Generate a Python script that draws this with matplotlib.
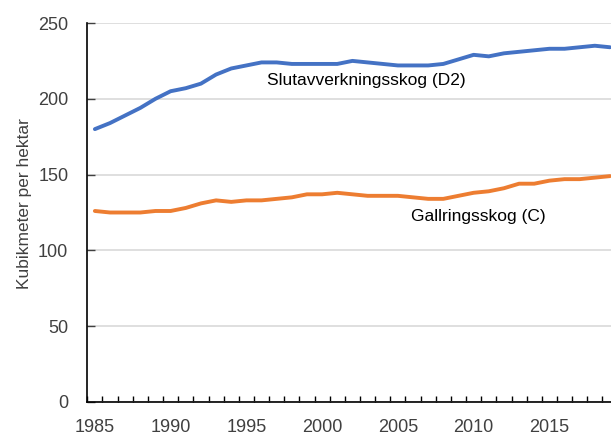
import matplotlib
matplotlib.use("Agg")
import matplotlib.pyplot as plt
import numpy as np

years = list(range(1985, 2020))
slutavverkning = [180, 184, 189, 194, 200, 205, 207, 210, 216, 220, 222, 224, 224, 223,
                  223, 223, 223, 225, 224, 223, 222, 222, 222, 223, 226, 229, 228, 230,
                  231, 232, 233, 233, 234, 235, 234]
gallring = [126, 125, 125, 125, 126, 126, 128, 131, 133, 132, 133, 133, 134, 135, 137,
            137, 138, 137, 136, 136, 136, 135, 134, 134, 136, 138, 139, 141, 144, 144,
            146, 147, 147, 148, 149]
ytick_vals = [0, 50, 100, 150, 200, 250]
xtick_labels = [1985, 1990, 1995, 2000, 2005, 2010, 2015]

plt.rcParams['font.family'] = ['Liberation Sans', 'DejaVu Sans']

fig = plt.figure(figsize=(6.11, 4.37), dpi=100)
ax_left = 87.3 / 611
ax_bottom = 35 / 437
ax_h = 379 / 437
ax_w = 35 * 15.15 / 611
ax = fig.add_axes([ax_left, ax_bottom, ax_w, ax_h])

ax.plot(years, slutavverkning, color='#4472C4', lw=2.8, solid_capstyle='round', zorder=3)
ax.plot(years, gallring, color='#ED7D31', lw=2.8, solid_capstyle='round', zorder=3)

ax.set_xlim(years[0] - 0.5, years[-1] + 0.5)
ax.set_ylim(0, 250)

ax.set_yticks(ytick_vals)
ax.set_yticklabels([str(v) for v in ytick_vals])
ax.grid(axis='y', color='#D9D9D9', lw=1.2, zorder=0)
ax.set_axisbelow(True)

# category boundary ticks (major, no labels), label ticks (minor)
ax.set_xticks(np.arange(years[0] - 0.5, years[-1] + 1.0, 1.0))
ax.set_xticklabels([])
ax.set_xticks(xtick_labels, minor=True)
ax.set_xticklabels([str(v) for v in xtick_labels], minor=True)
ax.tick_params(axis='x', which='major', direction='in', length=4, width=1, color='#000000')
ax.tick_params(axis='x', which='minor', length=0, pad=12.5, labelsize=13, labelcolor='#404040')
ax.tick_params(axis='y', direction='in', length=6, width=1, pad=13.7, labelsize=13,
               labelcolor='#404040', color='#404040')

for s in ['top', 'right']:
    ax.spines[s].set_visible(False)
for s in ['left', 'bottom']:
    ax.spines[s].set_color('#000000')
    ax.spines[s].set_linewidth(1.2)

ax.text(2002.9, 212.4, 'Slutavverkningsskog (D2)', ha='center', va='center',
        fontsize=12.5, color='#000000')
ax.text(2010.3, 122.2, 'Gallringsskog (C)', ha='center', va='center',
        fontsize=12.5, color='#000000')

fig.text(25 / 611, 1 - 203.5 / 437, 'Kubikmeter per hektar', rotation=90,
         ha='center', va='center', fontsize=12.5, color='#404040')

fig.savefig('out.png', dpi=100)
